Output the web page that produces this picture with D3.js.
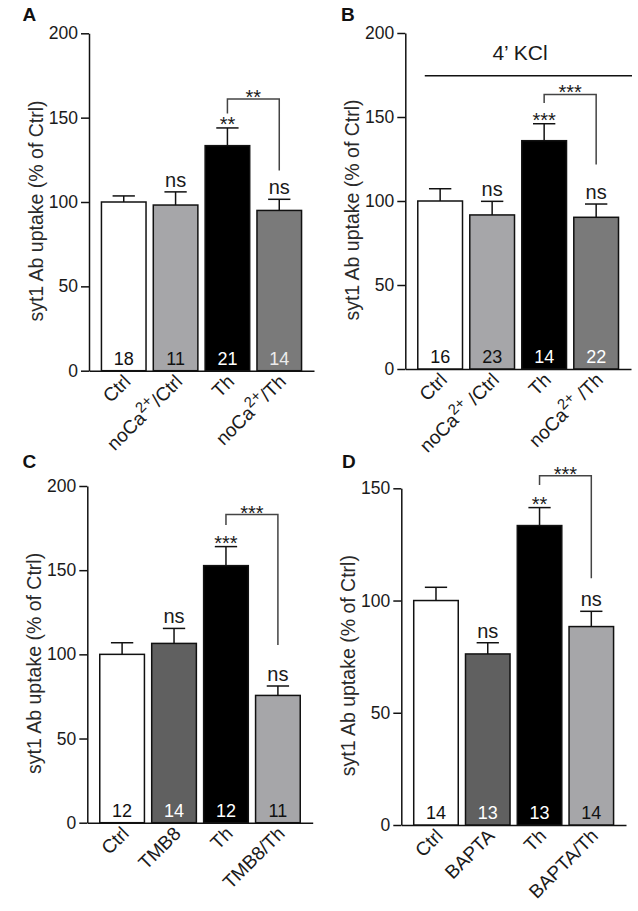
<!DOCTYPE html>
<html>
<head>
<meta charset="utf-8">
<script src="https://cdn.jsdelivr.net/npm/d3@7"></script>
<style>
  body { margin: 0; background: #fff; }
  svg { display: block; font-family: "Liberation Sans", Arial, Helvetica, sans-serif; }
</style>
</head>
<body>
<svg id="fig" width="638" height="911"></svg>
<script>
// ---- data ----
const catsA = ["Ctrl", "noCa^2+/Ctrl", "Th", "noCa^2+/Th"];
const meanA = [100, 98.2, 133.4, 95];
const semA = [3.6, 7.8, 10.5, 6.6];
const nA = [18, 11, 21, 14];
const sigA = ["", "ns", "**", "ns"];
const bracketA = { from: 2, to: 3, top: 161, leftEnd: 152.5, rightEnd: 118.6, label: "**" };

const catsB = ["Ctrl", "noCa^2+ /Ctrl", "Th", "noCa^2+ /Th"];
const meanB = [100, 91.7, 135.9, 90.3];
const semB = [7.3, 8.1, 10.1, 7.9];
const nB = [16, 23, 14, 22];
const sigB = ["", "ns", "***", "ns"];
const bracketB = { from: 2, to: 3, top: 163.4, leftEnd: 158.3, rightEnd: 121.8, label: "***" };
const kclLevel = 174.6;

const catsC = ["Ctrl", "TMB8", "Th", "TMB8/Th"];
const meanC = [100, 106.5, 152.7, 75.6];
const semC = [6.9, 8.9, 11.3, 5.6];
const nC = [12, 14, 12, 11];
const sigC = ["", "ns", "***", "ns"];
const bracketC = { from: 2, to: 3, top: 183, leftEnd: 176.8, rightEnd: 105.5, label: "***" };

const catsD = ["Ctrl", "BAPTA", "Th", "BAPTA/Th"];
const meanD = [100, 76.2, 133.4, 88.4];
const semD = [5.9, 5.0, 8.0, 6.8];
const nD = [14, 13, 13, 14];
const sigD = ["", "ns", "**", "ns"];
const bracketD = { from: 2, to: 3, top: 155.6, leftEnd: 151.5, rightEnd: 109.9, label: "***" };

const ticks200 = [0, 50, 100, 150, 200];
const ticks150 = [0, 50, 100, 150];

// ---- styles ----
const fillsCa = ["#ffffff", "#a6a6a9", "#000000", "#7a7a7a"];
const fillsDrug = ["#ffffff", "#606060", "#000000", "#a6a6a9"];
const nColorsA = ["#111", "#111", "#fff", "#ececec"];
const nColorsB = ["#111", "#111", "#fff", "#fff"];
const nColorsCD = ["#111", "#fff", "#fff", "#111"];

const svg = d3.select("#fig");

function addLabel(textSel, label) {
  // "noCa^2+/Ctrl" -> noCa + superscript 2+ + /Ctrl
  const m = label.match(/^(.*)\^(\d\+)(.*)$/);
  if (!m) { textSel.text(label); return; }
  textSel.append("tspan").text(m[1]);
  textSel.append("tspan").attr("dy", -8).style("font-size", "15px").text(m[2]);
  textSel.append("tspan").attr("dy", 8).text(m[3]);
}

function drawPanel(cfg) {
  const g = svg.append("g");

  const x = d3.scaleBand()
    .domain(cfg.cats)
    .range([cfg.x0, cfg.xEnd])
    .paddingInner(0.14)
    .paddingOuter(0.24);

  const y = d3.scaleLinear()
    .domain([0, cfg.yMax])
    .range([cfg.yBottom, cfg.yTop]);

  // y axis
  const yAxis = g.append("g")
    .attr("transform", `translate(${cfg.x0},0)`)
    .call(d3.axisLeft(y).tickValues(cfg.ticks).tickSize(8).tickSizeOuter(0).tickPadding(3));
  yAxis.attr("font-family", null).attr("font-size", null);
  yAxis.selectAll("path, line").attr("stroke", "#111").attr("stroke-width", 1.5);
  yAxis.selectAll("text").style("font-size", "17.5px").attr("fill", "#1a1a1a");

  // x axis line
  const xAxis = g.append("g")
    .attr("transform", `translate(0,${cfg.yBottom})`)
    .call(d3.axisBottom(x).tickSize(0).tickSizeOuter(0).tickFormat(""));
  xAxis.select("path").attr("stroke", "#111").attr("stroke-width", 1.5);

  const cx = (d) => x(d) + x.bandwidth() / 2;

  // bars
  g.selectAll("rect.bar")
    .data(cfg.cats)
    .join("rect")
    .attr("class", "bar")
    .attr("x", (d) => x(d))
    .attr("width", x.bandwidth())
    .attr("y", (d, i) => y(cfg.mean[i]))
    .attr("height", (d, i) => y(0) - y(cfg.mean[i]))
    .attr("fill", (d, i) => cfg.fills[i])
    .attr("stroke", "#111")
    .attr("stroke-width", 1.5);

  // error bars (upper only)
  const capW = x.bandwidth() * 0.5;
  cfg.cats.forEach((d, i) => {
    const top = y(cfg.mean[i] + cfg.sem[i]);
    g.append("line")
      .attr("x1", cx(d)).attr("x2", cx(d))
      .attr("y1", y(cfg.mean[i])).attr("y2", top)
      .attr("stroke", "#111").attr("stroke-width", 1.5);
    g.append("line")
      .attr("x1", cx(d) - capW / 2).attr("x2", cx(d) + capW / 2)
      .attr("y1", top).attr("y2", top)
      .attr("stroke", "#111").attr("stroke-width", 1.5);
    if (cfg.sig[i]) {
      const isStar = cfg.sig[i].startsWith("*");
      g.append("text")
        .attr("x", cx(d))
        .attr("y", isStar ? top + 3 : top - 5)
        .attr("text-anchor", "middle")
        .style("font-size", "20px")
        .attr("fill", "#1a1a1a")
        .text(cfg.sig[i]);
    }
  });

  // n per bar
  g.selectAll("text.n")
    .data(cfg.cats)
    .join("text")
    .attr("class", "n")
    .attr("x", (d) => cx(d))
    .attr("y", cfg.yBottom - 6)
    .attr("text-anchor", "middle")
    .style("font-size", "18px")
    .attr("fill", (d, i) => cfg.nColors[i])
    .text((d, i) => cfg.n[i]);

  // rotated category labels
  cfg.cats.forEach((d) => {
    const t = g.append("text")
      .attr("transform", `translate(${cx(d) + 8},${cfg.yBottom + 12}) rotate(-45)`)
      .attr("text-anchor", "end")
      .style("font-size", "19px")
      .attr("fill", "#1a1a1a");
    addLabel(t, d);
  });

  // comparison bracket
  const b = cfg.bracket;
  const bx1 = cx(cfg.cats[b.from]);
  const bx2 = cx(cfg.cats[b.to]);
  g.append("path")
    .attr("d", `M${bx1},${y(b.leftEnd)}V${y(b.top)}H${bx2}V${y(b.rightEnd)}`)
    .attr("fill", "none")
    .attr("stroke", "#444")
    .attr("stroke-width", 1.5);
  g.append("text")
    .attr("x", (bx1 + bx2) / 2)
    .attr("y", y(b.top) + 5)
    .attr("text-anchor", "middle")
    .style("font-size", "20px")
    .attr("fill", "#1a1a1a")
    .text(b.label);

  // y axis title
  const yMid = (cfg.yTop + cfg.yBottom) / 2 + 9;
  g.append("text")
    .attr("transform", `translate(${cfg.x0 - 46},${yMid}) rotate(-90)`)
    .attr("text-anchor", "middle")
    .style("font-size", "19.5px")
    .attr("fill", "#2a2a2a")
    .text("syt1 Ab uptake (% of Ctrl)");

  // panel letter
  g.append("text")
    .attr("x", cfg.letterX)
    .attr("y", cfg.letterY)
    .style("font-size", "19px")
    .attr("font-weight", "bold")
    .attr("fill", "#111")
    .text(cfg.letter);

  return { g, x, y };
}

drawPanel({
  letter: "A", letterX: 22.5, letterY: 21,
  cats: catsA, mean: meanA, sem: semA, n: nA, sig: sigA, bracket: bracketA,
  fills: fillsCa, nColors: nColorsA, ticks: ticks200, yMax: 200,
  x0: 89, xEnd: 314, yTop: 33.3, yBottom: 370.7,
});

const pB = drawPanel({
  letter: "B", letterX: 341, letterY: 21,
  cats: catsB, mean: meanB, sem: semB, n: nB, sig: sigB, bracket: bracketB,
  fills: fillsCa, nColors: nColorsB, ticks: ticks200, yMax: 200,
  x0: 405.3, xEnd: 631, yTop: 33, yBottom: 369,
});

// 4' KCl bar over panel B
pB.g.append("line")
  .attr("x1", pB.x(catsB[0]) + 7).attr("x2", 632)
  .attr("y1", pB.y(kclLevel)).attr("y2", pB.y(kclLevel))
  .attr("stroke", "#111").attr("stroke-width", 1.5);
pB.g.append("text")
  .attr("x", 520)
  .attr("y", pB.y(kclLevel) - 16)
  .attr("text-anchor", "middle")
  .style("font-size", "21px")
  .attr("fill", "#1a1a1a")
  .text("4\u2019 KCl");

drawPanel({
  letter: "C", letterX: 22.5, letterY: 468,
  cats: catsC, mean: meanC, sem: semC, n: nC, sig: sigC, bracket: bracketC,
  fills: fillsDrug, nColors: nColorsCD, ticks: ticks200, yMax: 200,
  x0: 87.3, xEnd: 312.7, yTop: 486, yBottom: 822.7,
});

drawPanel({
  letter: "D", letterX: 342, letterY: 468,
  cats: catsD, mean: meanD, sem: semD, n: nD, sig: sigD, bracket: bracketD,
  fills: fillsDrug, nColors: nColorsCD, ticks: ticks150, yMax: 150,
  x0: 401.3, xEnd: 626, yTop: 488.3, yBottom: 825,
});
</script>
</body>
</html>
